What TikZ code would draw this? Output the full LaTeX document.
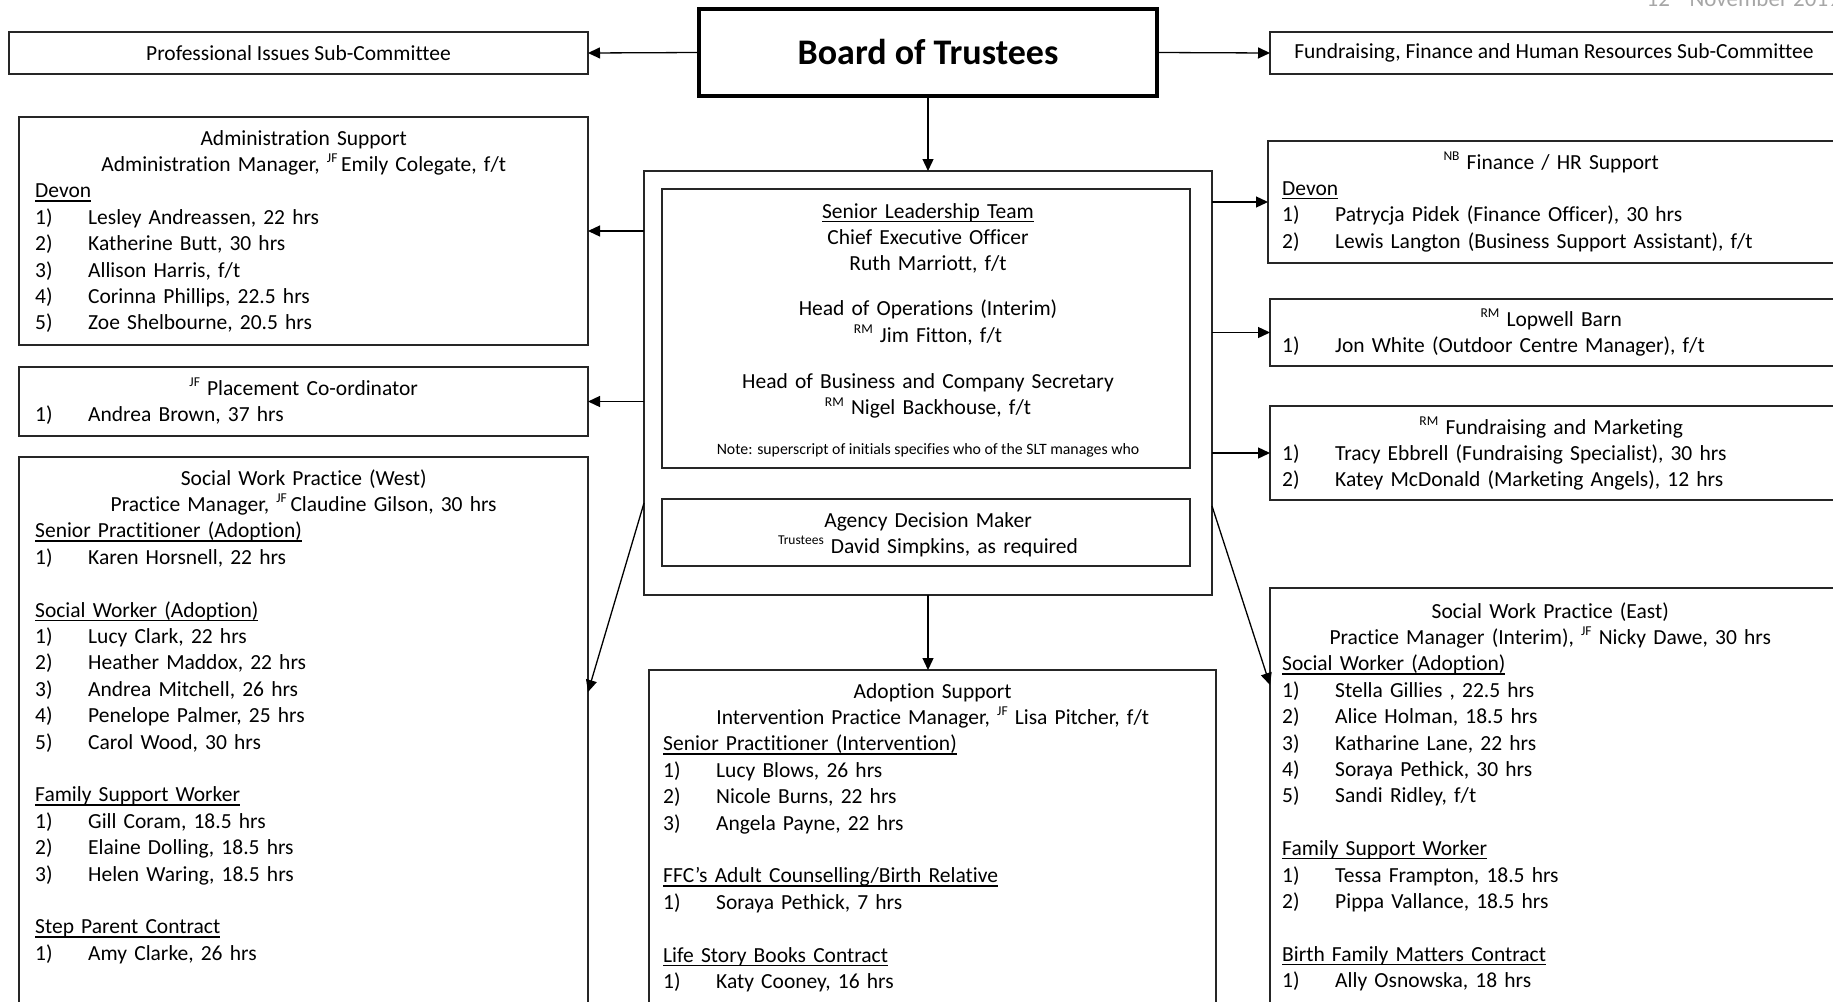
\documentclass[tikz,border=0pt]{standalone}
\usepackage{fontspec}
\setmainfont{Carlito}[Ligatures=NoCommon]
\usetikzlibrary{arrows.meta}
\newcommand\bodyfont{\fontsize{21.5pt}{26.4pt}\selectfont\setlength\parindent{0pt}}
\newcommand\sps[1]{\raisebox{0.4em}{\fontsize{13.5pt}{13.5pt}\selectfont #1}}
\newcommand\cl[1]{\makebox[\hsize][c]{#1}}
\newcommand\li[2]{\makebox[53pt][l]{#1}#2}
\newsavebox\ulbox
\newcommand\uln[1]{\leavevmode\sbox\ulbox{#1}\rlap{\rule[-3.6pt]{\wd\ulbox}{1.1pt}}\usebox\ulbox}
\tikzset{
  box/.style={draw=black!85, line width=1.3pt, anchor=north west, inner sep=0pt, outer sep=0pt},
  txt/.style={anchor=north west, inner sep=0pt, align=left, font=\bodyfont},
  ctxt/.style={anchor=north, inner sep=0pt, align=center, font=\bodyfont},
  arr/.style={-{Triangle[length=12pt,width=11pt]}, line width=1.3pt},
}
\begin{document}
\begin{tikzpicture}[x=1pt,y=-1pt]
\useasboundingbox (0,0) rectangle (1833,1001);
% date
\node[anchor=base east, inner sep=0pt, text=black!35, font=\fontsize{23pt}{27pt}\selectfont] (date) at (1840,6) {12\textsuperscript{th} November 2019};
% top row
\node[box, draw=black, line width=3.5pt, minimum width=458pt, minimum height=87pt, font=\fontsize{36pt}{42pt}\selectfont\bfseries] (board) at (699,9) {Board of Trustees};
\node[box, minimum width=579pt, minimum height=42pt, font=\bodyfont] (prof) at (9,32) {Professional Issues Sub-Committee};
\node[box, minimum width=568pt, minimum height=42pt, font=\bodyfont] (fundhr) at (1270,32) {Fundraising, Finance and Human Resources Sub-Committee};
% boxes
\node[box, minimum width=569pt, minimum height=228pt] (admin) at (19,117) {};
\node[box, minimum width=569pt, minimum height=69pt] (place) at (19,367) {};
\node[box, minimum width=569pt, minimum height=553pt] (swwest) at (19,457) {};
\node[box, minimum width=568pt, minimum height=424pt] (outer) at (644,171) {};
\node[box, minimum width=528pt, minimum height=279pt] (slt) at (662,189) {};
\node[box, minimum width=528pt, minimum height=67pt] (agency) at (662,499) {};
\node[box, minimum width=567pt, minimum height=340pt] (adopt) at (649,670) {};
\node[box, minimum width=570pt, minimum height=122pt] (fin) at (1268,141) {};
\node[box, minimum width=568pt, minimum height=67pt] (lop) at (1270,299) {};
\node[box, minimum width=568pt, minimum height=94pt] (fmk) at (1270,406) {};
\node[box, minimum width=568pt, minimum height=422pt] (sweast) at (1270,588) {};
% texts
\node[txt, text width=537pt] (admintxt) at (35,126.5) {\strut\cl{Administration Support}\\
\cl{Administration Manager, \sps{JF}\,Emily Colegate, f/t}\\
\uln{Devon}\\
\li{1)}{Lesley Andreassen, 22 hrs}\\
\li{2)}{Katherine Butt, 30 hrs}\\
\li{3)}{Allison Harris, f/t}\\
\li{4)}{Corinna Phillips, 22.5 hrs}\\
\li{5)}{Zoe Shelbourne, 20.5 hrs}};
\node[txt, text width=537pt] (placetxt) at (35,376.5) {\strut\cl{\sps{JF} Placement Co-ordinator}\\
\li{1)}{Andrea Brown, 37 hrs}};
\node[txt, text width=537pt] (swwesttxt) at (35,466.5) {\strut\cl{Social Work Practice (West)}\\
\cl{Practice Manager, \sps{JF}\,Claudine Gilson, 30 hrs}\\
\uln{Senior Practitioner (Adoption)}\\
\li{1)}{Karen Horsnell, 22 hrs}\\[26.4pt]
\uln{Social Worker (Adoption)}\\
\li{1)}{Lucy Clark, 22 hrs}\\
\li{2)}{Heather Maddox, 22 hrs}\\
\li{3)}{Andrea Mitchell, 26 hrs}\\
\li{4)}{Penelope Palmer, 25 hrs}\\
\li{5)}{Carol Wood, 30 hrs}\\[26.4pt]
\uln{Family Support Worker}\\
\li{1)}{Gill Coram, 18.5 hrs}\\
\li{2)}{Elaine Dolling, 18.5 hrs}\\
\li{3)}{Helen Waring, 18.5 hrs}\\[26.4pt]
\uln{Step Parent Contract}\\
\li{1)}{Amy Clarke, 26 hrs}};
\node[ctxt, text width=500pt] (slttxt) at (928,199.5) {\strut\uln{Senior Leadership Team}\\
Chief Executive Officer\\
Ruth Marriott, f/t\\[18.6pt]
Head of Operations (Interim)\\
\sps{RM} Jim Fitton, f/t\\[19.6pt]
Head of Business and Company Secretary\\
\sps{RM} Nigel Backhouse, f/t};
\node[anchor=base, inner sep=0pt, font=\fontsize{15.8pt}{18pt}\selectfont] (note) at (928,454) {Note: superscript of initials specifies who of the SLT manages who};
\node[ctxt, text width=500pt] (agencytxt) at (928,508.5) {\strut Agency Decision Maker\\
\sps{Trustees} David Simpkins, as required};
\node[txt, text width=539pt] (adopttxt) at (663,679.5) {\strut\cl{Adoption Support}\\
\cl{Intervention Practice Manager, \sps{JF} Lisa Pitcher, f/t}\\
\uln{Senior Practitioner (Intervention)}\\
\li{1)}{Lucy Blows, 26 hrs}\\
\li{2)}{Nicole Burns, 22 hrs}\\
\li{3)}{Angela Payne, 22 hrs}\\[26.4pt]
\uln{FFC’s Adult Counselling/Birth Relative}\\
\li{1)}{Soraya Pethick, 7 hrs}\\[26.4pt]
\uln{Life Story Books Contract}\\
\li{1)}{Katy Cooney, 16 hrs}};
\node[txt, text width=538pt] (fintxt) at (1282,150.5) {\strut\cl{\sps{NB} Finance / HR Support}\\
\uln{Devon}\\
\li{1)}{Patrycja Pidek (Finance Officer), 30 hrs}\\
\li{2)}{Lewis Langton (Business Support Assistant), f/t}};
\node[txt, text width=538pt] (loptxt) at (1282,307.5) {\strut\cl{\sps{RM} Lopwell Barn}\\
\li{1)}{Jon White (Outdoor Centre Manager), f/t}};
\node[txt, text width=538pt] (fmktxt) at (1282,415.5) {\strut\cl{\sps{RM} Fundraising and Marketing}\\
\li{1)}{Tracy Ebbrell (Fundraising Specialist), 30 hrs}\\
\li{2)}{Katey McDonald (Marketing Angels), 12 hrs}};
\node[txt, text width=536pt] (sweasttxt) at (1282,599.5) {\strut\cl{Social Work Practice (East)}\\
\cl{Practice Manager (Interim), \sps{JF} Nicky Dawe, 30 hrs}\\
\uln{Social Worker (Adoption)}\\
\li{1)}{Stella Gillies , 22.5 hrs}\\
\li{2)}{Alice Holman, 18.5 hrs}\\
\li{3)}{Katharine Lane, 22 hrs}\\
\li{4)}{Soraya Pethick, 30 hrs}\\
\li{5)}{Sandi Ridley, f/t}\\[26.4pt]
\uln{Family Support Worker}\\
\li{1)}{Tessa Frampton, 18.5 hrs}\\
\li{2)}{Pippa Vallance, 18.5 hrs}\\[26.4pt]
\uln{Birth Family Matters Contract}\\
\li{1)}{Ally Osnowska, 18 hrs}};
% connectors
\draw[arr] (board.west) -- (prof.east);
\draw[arr] (board.east) -- (fundhr.west);
\draw[arr] (board.south) -- (outer.north);
\draw[arr] (outer.west |- admin.east) -- (admin.east);
\draw[arr] (outer.west |- place.east) -- (place.east);
\draw[arr] (outer.east |- fin.west) -- (fin.west);
\draw[arr] (outer.east |- lop.west) -- (lop.west);
\draw[arr] (outer.east |- fmk.west) -- (fmk.west);
\draw[arr] (outer.south) -- (outer.south |- adopt.north);
\draw[arr] ([yshift=-120pt]outer.west) -- ([yshift=41.5pt]swwest.east);
\draw[arr] ([yshift=-123pt]outer.east) -- ([yshift=114pt]sweast.west);
\end{tikzpicture}
\end{document}
